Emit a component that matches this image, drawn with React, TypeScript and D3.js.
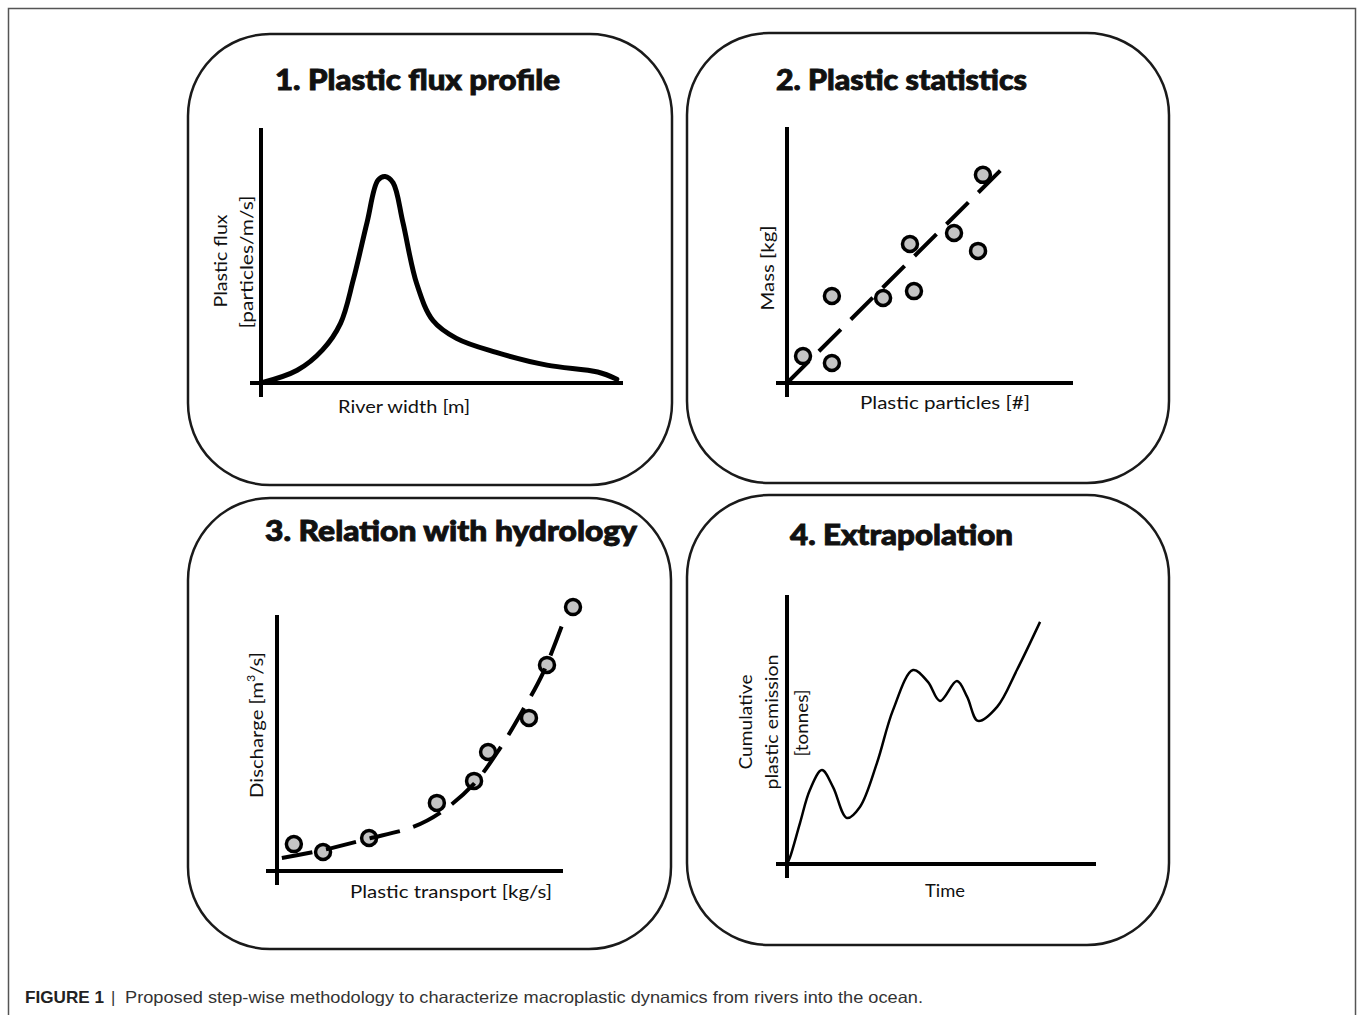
import React from "react";
import * as d3 from "d3";

// 1. flux profile across the river width
const fluxWidth = [0, 1.0, 1.7, 2.2, 2.55, 2.93, 3.23, 3.43, 3.65, 3.92, 4.3, 4.75, 5.4, 6.5, 7.9, 9.3, 9.83];
const fluxValue = [0, 0.5, 1.3, 2.35, 4.05, 6.3, 7.95, 8.1, 7.85, 6.3, 3.9, 2.45, 1.75, 1.2, 0.7, 0.43, 0.15];

// 2. particles vs mass, with a linear fit
const particleCount = [0.56, 1.57, 1.57, 3.36, 4.44, 4.3, 5.84, 6.68, 6.85];
const particleMass = [1.05, 0.78, 3.4, 3.32, 3.59, 5.43, 5.86, 5.16, 8.13];
const massFitX = [0, 7.55];
const massFitY = [0, 8.4];

// 3. transport vs discharge, with a curved fit
const transportX = [0.59, 1.61, 3.22, 5.59, 6.89, 7.38, 8.81, 9.44, 10.35];
const dischargeY = [1.05, 0.74, 1.29, 2.66, 3.52, 4.65, 5.98, 8.05, 10.31];
const dischargeFitX = [0.17, 1.61, 3.15, 4.76, 5.7, 6.85, 7.8, 8.6, 9.3, 9.97];
const dischargeFitY = [0.51, 0.82, 1.25, 1.72, 2.27, 3.36, 4.8, 6.29, 7.73, 9.61];

// 4. cumulative emission over time
const timeX = [0, 0.1, 0.42, 0.74, 1.13, 1.49, 1.94, 2.36, 2.91, 3.43, 4.08, 4.56, 4.95, 5.5, 5.83, 6.18, 6.8, 7.44, 8.19];
const emissionY = [0, 0.26, 1.52, 2.75, 3.49, 2.86, 1.71, 2.12, 3.75, 5.72, 7.21, 6.77, 6.06, 6.8, 6.21, 5.32, 5.84, 7.21, 9.0];

const titles = ["1. Plastic flux profile", "2. Plastic statistics", "3. Relation with hydrology", "4. Extrapolation"];

const TITLE_FONT = "Lato, 'DejaVu Sans', sans-serif";
const LABEL_FONT = "Lato, 'Open Sans', sans-serif";
const CAPTION_FONT = "'Liberation Sans', Arial, sans-serif";

// panel boxes and plot areas (pixels)
const layout = [
  { box: [188, 34, 484, 451], xr: [261, 623], yr: [383, 128], title: [275, 90, 285] },
  { box: [687, 33, 482, 450], xr: [787, 1073], yr: [383, 127], title: [776, 90, 251] },
  { box: [188, 498, 483, 451], xr: [277, 563], yr: [871, 615], title: [265, 541, 372] },
  { box: [687, 495, 482, 450], xr: [787, 1096], yr: [864, 595], title: [790, 545, 223] },
];

const zip = (xs: number[], ys: number[]) => xs.map((x, i) => [x, ys[i]] as [number, number]);

function Axes({ x, y }: { x: d3.ScaleLinear<number, number>; y: d3.ScaleLinear<number, number> }) {
  return (
    <g stroke="#000" strokeWidth={4}>
      <line x1={x(0)} x2={x(0)} y1={y(10)} y2={y(0) + 14} />
      <line x1={x(0) - 11} x2={x(10)} y1={y(0)} y2={y(0)} />
    </g>
  );
}

function VLabel({ x, y, len, text, children }: any) {
  return (
    <text
      transform={`translate(${x},${y}) rotate(-90)`}
      textAnchor="middle"
      fontFamily={LABEL_FONT}
      fontSize={18}
      fill="#111"
      textLength={len}
      lengthAdjust="spacingAndGlyphs"
    >
      {children ?? text}
    </text>
  );
}

function HLabel({ x, y, len, text }: any) {
  return (
    <text
      x={x}
      y={y}
      textAnchor="middle"
      fontFamily={LABEL_FONT}
      fontSize={18}
      fill="#111"
      textLength={len}
      lengthAdjust="spacingAndGlyphs"
    >
      {text}
    </text>
  );
}

export default function App() {
  const scales = layout.map((p) => ({
    x: d3.scaleLinear().domain([0, 10]).range(p.xr),
    y: d3.scaleLinear().domain([0, 10]).range(p.yr),
  }));

  const mkLine = (i: number, curve: d3.CurveFactory) =>
    d3
      .line<[number, number]>()
      .x((d) => scales[i].x(d[0]))
      .y((d) => scales[i].y(d[1]))
      .curve(curve);

  const fluxPath = mkLine(0, d3.curveCatmullRom.alpha(0.5))(zip(fluxWidth, fluxValue)) || "";
  const massFit = mkLine(1, d3.curveLinear)(zip(massFitX, massFitY)) || "";
  const dischargeFit = mkLine(2, d3.curveCatmullRom.alpha(0.5))(zip(dischargeFitX, dischargeFitY)) || "";
  const emissionPath = mkLine(3, d3.curveCatmullRom.alpha(0.5))(zip(timeX, emissionY)) || "";

  const dots = (i: number, xs: number[], ys: number[]) =>
    xs.map((v, k) => (
      <circle key={k} cx={scales[i].x(v)} cy={scales[i].y(ys[k])} r={7.5} fill="#c4c4c4" stroke="#000" strokeWidth={3.5} />
    ));

  return (
    <div style={{ position: "absolute", left: 0, top: 0 }}>
      <svg width={1360} height={1015} style={{ display: "block", background: "#fff" }}>
        {/* outer frame */}
        <rect x={8.5} y={8.5} width={1347} height={1020} fill="none" stroke="#555" strokeWidth={1.5} />

        {layout.map((p, i) => (
          <g key={i}>
            <rect x={p.box[0]} y={p.box[1]} width={p.box[2]} height={p.box[3]} rx={82} ry={82} fill="#fff" stroke="#1a1a1a" strokeWidth={2.5} />
            {/* extra stroke to get closer to the heavy geometric title face */}
            <text
              x={p.title[0]}
              y={p.title[1]}
              fontFamily={TITLE_FONT}
              fontWeight={900}
              fontSize={28}
              fill="#111"
              stroke="#111"
              strokeWidth={0.9}
              textLength={p.title[2]}
              lengthAdjust="spacingAndGlyphs"
            >
              {titles[i]}
            </text>
            <Axes x={scales[i].x} y={scales[i].y} />
          </g>
        ))}

        {/* panel 1 */}
        <path d={fluxPath} fill="none" stroke="#000" strokeWidth={5} strokeLinecap="round" />
        <VLabel x={227} y={261} len={93} text="Plastic flux" />
        <VLabel x={253} y={262} len={133} text="[particles/m/s]" />
        <HLabel x={404} y={413} len={132} text="River width [m]" />

        {/* panel 2 */}
        {dots(1, particleCount, particleMass)}
        <path d={massFit} fill="none" stroke="#000" strokeWidth={4} strokeDasharray="31,14" />
        <VLabel x={774} y={268} len={85} text="Mass [kg]" />
        <HLabel x={945} y={409} len={170} text="Plastic particles [#]" />

        {/* panel 3 */}
        {dots(2, transportX, dischargeY)}
        <path d={dischargeFit} fill="none" stroke="#000" strokeWidth={4} strokeDasharray="31,14" />
        <VLabel x={263} y={725} len={146}>
          Discharge [m
          <tspan fontSize={11} dy={-8}>3</tspan>
          <tspan dy={8}>/s]</tspan>
        </VLabel>
        <HLabel x={451} y={898} len={202} text="Plastic transport [kg/s]" />

        {/* panel 4 */}
        <path d={emissionPath} fill="none" stroke="#000" strokeWidth={2.5} />
        <VLabel x={752} y={722} len={95} text="Cumulative" />
        <VLabel x={778} y={722} len={135} text="plastic emission" />
        <VLabel x={808} y={723} len={67} text="[tonnes]" />
        <HLabel x={945} y={897} len={40} text="Time" />

        {/* caption */}
        <text x={25} y={1003} fontFamily={CAPTION_FONT} fontSize={16.5} fontWeight={700} fill="#222" textLength={79} lengthAdjust="spacingAndGlyphs">
          FIGURE 1
        </text>
        <text x={111} y={1003} fontFamily={CAPTION_FONT} fontSize={16.5} fill="#333">
          |
        </text>
        <text x={125} y={1003} fontFamily={CAPTION_FONT} fontSize={16.5} fill="#333" textLength={798} lengthAdjust="spacingAndGlyphs">
          Proposed step-wise methodology to characterize macroplastic dynamics from rivers into the ocean.
        </text>
      </svg>
    </div>
  );
}
